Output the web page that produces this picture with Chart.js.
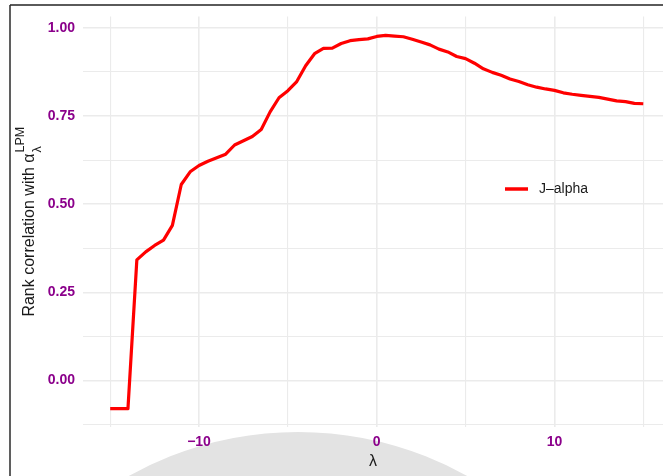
<!DOCTYPE html>
<html>
<head>
<meta charset="utf-8">
<script src="https://cdn.jsdelivr.net/npm/chart.js@4/dist/chart.umd.min.js"></script>
<style>
  html, body { margin: 0; padding: 0; background: #ffffff; }
  canvas { display: block; }
</style>
</head>
<body>
<canvas id="chart" width="663" height="476"></canvas>
<script>
// Rank correlation of J-alpha with the LPM alpha across lambda
const lambdaValues = [
  -15, -14.5, -14, -13.5, -13, -12.5, -12, -11.5, -11, -10.5,
  -10, -9.5, -9, -8.5, -8, -7.5, -7, -6.5, -6, -5.5,
  -5, -4.5, -4, -3.5, -3, -2.5, -2, -1.5, -1, -0.5,
  0, 0.5, 1, 1.5, 2, 2.5, 3, 3.5, 4, 4.5,
  5, 5.5, 6, 6.5, 7, 7.5, 8, 8.5, 9, 9.5,
  10, 10.5, 11, 11.5, 12, 12.5, 13, 13.5, 14, 14.5, 15
];
const jAlpha = [
  -0.080, -0.080, -0.080, 0.342, 0.365, 0.383, 0.398, 0.440, 0.556, 0.592,
  0.610, 0.622, 0.632, 0.642, 0.668, 0.680, 0.692, 0.712, 0.762, 0.802,
  0.822, 0.848, 0.893, 0.927, 0.942, 0.943, 0.956, 0.964, 0.967, 0.969,
  0.976, 0.979, 0.977, 0.975, 0.968, 0.960, 0.952, 0.940, 0.932, 0.919,
  0.913, 0.900, 0.884, 0.874, 0.866, 0.855, 0.848, 0.839, 0.832, 0.827,
  0.823, 0.816, 0.812, 0.809, 0.806, 0.803, 0.798, 0.793, 0.791, 0.786, 0.785
];
const seriesLabel = 'J\u2013alpha';

const xGridValues = [-15, -10, -5, 0, 5, 10, 15];
const xLabelValues = [-10, 0, 10];
const yGridValues = [-0.125, 0, 0.125, 0.25, 0.375, 0.5, 0.625, 0.75, 0.875, 1];
const yLabelValues = [0, 0.25, 0.5, 0.75, 1];

const xTitle = '\u03bb';
const yTitleMain = 'Rank correlation with \u03b1';
const yTitleSub = '\u03bb';
const yTitleSup = 'LPM';

const FONT = '"Liberation Sans", Arial, Helvetica, sans-serif';
const TICK_COLOR = '#8B008B';
const GRID_COLOR = '#EBEBEB';
const LINE_COLOR = '#FF0000';

const fmtX = v => (v < 0 ? '\u2212' + Math.abs(v) : String(v));

// page frame and faint background band
const framePlugin = {
  id: 'frame',
  beforeDraw(chart) {
    const { ctx, width, height } = chart;
    ctx.save();
    ctx.fillStyle = '#ffffff';
    ctx.fillRect(0, 0, width, height);
    ctx.beginPath();
    ctx.arc(298, 779, 322, Math.PI, 2 * Math.PI);
    ctx.lineWidth = 50;
    ctx.strokeStyle = '#e3e3e3';
    ctx.stroke();
    ctx.strokeStyle = '#5a5a5a';
    ctx.lineWidth = 2;
    ctx.beginPath();
    ctx.moveTo(10, 5);
    ctx.lineTo(width, 5);
    ctx.stroke();
    ctx.strokeStyle = '#2a2a2a';
    ctx.lineWidth = 1.5;
    ctx.beginPath();
    ctx.moveTo(10, 5);
    ctx.lineTo(10, height);
    ctx.stroke();
    ctx.restore();
  }
};

// y-axis title with subscript and superscript
const yTitlePlugin = {
  id: 'yTitle',
  afterDraw(chart) {
    const { ctx, chartArea } = chart;
    const mainFont = '16px ' + FONT;
    const smallFont = '12.5px ' + FONT;
    ctx.save();
    ctx.font = mainFont;
    const wMain = ctx.measureText(yTitleMain).width;
    ctx.font = smallFont;
    const wSub = ctx.measureText(yTitleSub).width;
    const wSup = ctx.measureText(yTitleSup).width;
    const total = wMain + 1 + Math.max(wSub, wSup);
    const cy = (chartArea.top + chartArea.bottom) / 2;
    ctx.translate(33.5, cy);
    ctx.rotate(-Math.PI / 2);
    ctx.fillStyle = '#1a1a1a';
    ctx.textBaseline = 'alphabetic';
    ctx.textAlign = 'left';
    const x0 = -total / 2;
    ctx.font = mainFont;
    ctx.fillText(yTitleMain, x0, 0);
    ctx.font = smallFont;
    ctx.fillText(yTitleSub, x0 + wMain + 1, 7);
    ctx.fillText(yTitleSup, x0 + wMain + 1, -9.5);
    ctx.restore();
  }
};

// legend drawn inside the panel
const legendPlugin = {
  id: 'insideLegend',
  afterDatasetsDraw(chart) {
    const { ctx } = chart;
    const ds = chart.data.datasets[0];
    const y = 189;
    ctx.save();
    ctx.strokeStyle = ds.borderColor;
    ctx.lineWidth = 3.5;
    ctx.beginPath();
    ctx.moveTo(505, y);
    ctx.lineTo(528, y);
    ctx.stroke();
    ctx.fillStyle = '#1a1a1a';
    ctx.font = '14px ' + FONT;
    ctx.textBaseline = 'middle';
    ctx.textAlign = 'left';
    ctx.fillText(ds.label, 539, y + 0.5);
    ctx.restore();
  }
};

const points = lambdaValues.map((x, i) => ({ x, y: jAlpha[i] }));

new Chart(document.getElementById('chart'), {
  type: 'line',
  data: {
    datasets: [{
      label: seriesLabel,
      data: points,
      borderColor: LINE_COLOR,
      backgroundColor: LINE_COLOR,
      borderWidth: 3.2,
      pointRadius: 0,
      tension: 0,
      borderJoinStyle: 'round',
      borderCapStyle: 'butt',
      fill: false
    }]
  },
  options: {
    responsive: false,
    animation: false,
    devicePixelRatio: 1,
    layout: { padding: { top: 12, left: 0, right: 0, bottom: 0 } },
    plugins: {
      legend: { display: false },
      tooltip: { enabled: false }
    },
    scales: {
      x: {
        type: 'linear',
        min: -16.53,
        max: 16.11,
        afterBuildTicks: s => { s.ticks = xGridValues.map(v => ({ value: v })); },
        afterFit: s => { s.height = 49; },
        border: { display: false },
        grid: {
          color: GRID_COLOR,
          drawTicks: false,
          lineWidth: c => (c.tick && xLabelValues.includes(c.tick.value) ? 1.6 : 1.1)
        },
        ticks: {
          padding: 7,
          autoSkip: false,
          maxRotation: 0,
          color: TICK_COLOR,
          font: { family: FONT, size: 14, weight: 'bold' },
          callback: v => (xLabelValues.includes(v) ? fmtX(v) : '')
        },
        title: {
          display: true,
          text: xTitle,
          color: '#1a1a1a',
          font: { family: FONT, size: 16 },
          padding: { top: 0, bottom: 5 }
        }
      },
      y: {
        type: 'linear',
        min: -0.1319,
        max: 1.0328,
        afterBuildTicks: s => { s.ticks = yGridValues.map(v => ({ value: v })); },
        afterFit: s => { s.width = 83; },
        border: { display: false },
        grid: {
          color: GRID_COLOR,
          drawTicks: false,
          lineWidth: c => (c.tick && yLabelValues.includes(c.tick.value) ? 1.6 : 1.1)
        },
        ticks: {
          padding: 8,
          autoSkip: false,
          color: TICK_COLOR,
          font: { family: FONT, size: 14, weight: 'bold' },
          callback: v => (yLabelValues.includes(v) ? v.toFixed(2) : '')
        }
      }
    }
  },
  plugins: [framePlugin, yTitlePlugin, legendPlugin]
});
</script>
</body>
</html>
